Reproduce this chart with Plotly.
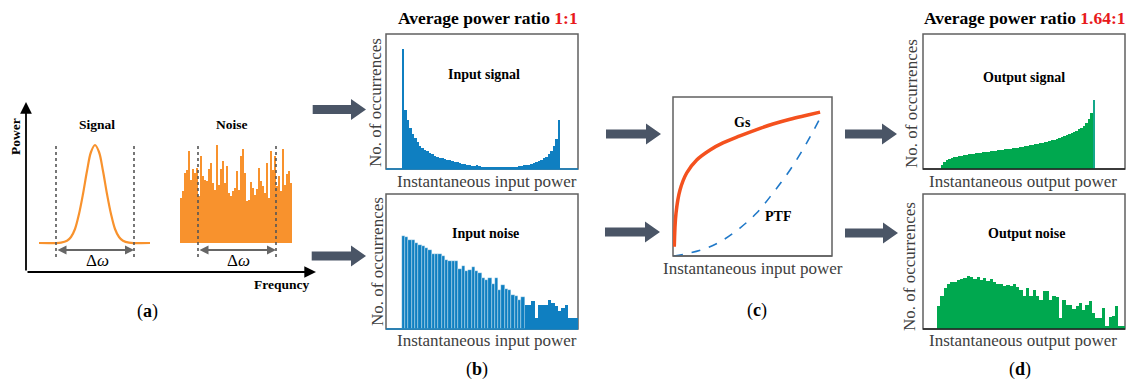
import plotly.graph_objects as go

W, H = 1131, 383

# ---------------- data ----------------
# (a) spectra: signal line (frequency, power) and noise spectrum samples
signal_freq = [13, 35, 41, 45, 49, 53, 57, 61, 65, 69, 73, 77, 81, 85, 89, 93, 97, 103, 124]
signal_power = [0, 0.4, 2.2, 6, 14, 29, 49, 72, 91, 98, 91, 72, 49, 29, 14, 6, 2.2, 0.4, 0]
noise_power = [45, 52, 70, 73, 92, 63, 74, 70, 75, 47, 87, 67, 63, 62, 74, 80, 60, 53, 98, 58,
               74, 82, 60, 77, 50, 47, 52, 55, 72, 53, 87, 94, 70, 42, 43, 61, 55, 48, 54, 75,
               62, 57, 50, 80, 45, 92, 73, 87, 57, 67, 52, 94, 58, 69, 72, 60]

# (b) histograms of instantaneous input power
input_signal_counts = [120, 59, 49, 41, 35, 31, 27, 23, 21, 19, 18, 16, 15, 13, 12, 11.5, 11, 10, 9.5, 9,
                       8, 7.5, 7, 6, 5.5, 5, 4.5, 4, 3.5, 3.5, 4, 3, 2.5, 2.5, 2, 2, 2, 2, 2, 2,
                       2, 2, 2, 2, 2.5, 2.5, 2.5, 3, 3.5, 4, 4, 4.5, 5.5, 6, 7, 8, 9, 11, 12.5, 15,
                       18, 23, 30, 49]
input_noise_counts = [93, 92, 89, 89, 86, 84, 83, 81, 79, 75, 75, 75, 73, 69, 68, 68, 68, 60, 63, 58,
                      59, 62, 58, 56, 51, 49, 51, 45, 51, 39, 44, 40, 39, 34, 33, 29, 32, 24, 24, 28,
                      11, 24, 24, 24, 29, 26, 23, 18, 21, 24, 11, 11, 11]

# (c) transfer curves
gs_x = [0.008, 0.019, 0.044, 0.086, 0.149, 0.233, 0.314, 0.421, 0.526, 0.629, 0.736, 0.841, 0.925]
gs_y = [0.058, 0.27, 0.415, 0.522, 0.604, 0.667, 0.711, 0.755, 0.795, 0.830, 0.860, 0.885, 0.905]
ptf_x = [0.006, 0.107, 0.212, 0.314, 0.421, 0.526, 0.629, 0.736, 0.841, 0.925]
ptf_y = [0.0, 0.019, 0.05, 0.10, 0.176, 0.27, 0.396, 0.541, 0.711, 0.868]

# (d) histograms of instantaneous output power
output_signal_counts = [4, 7, 9, 10, 11, 12, 12.5, 13, 13.5, 14, 14.5, 15, 15, 15.5, 16, 16, 16.5, 17, 17, 17.5,
                        18, 18, 18.5, 19, 19, 19.5, 20, 20, 20.5, 21, 21, 21.5, 22, 22.5, 23, 23.5, 24, 24.5,
                        25, 25.5, 26, 26.5, 27, 27.5, 28, 29, 29.5, 30, 31, 32, 33, 34, 35, 36, 37, 38, 40,
                        41, 43, 46, 50, 56, 69]
output_noise_counts = [23, 33, 41, 45, 47, 47, 49, 50, 51, 53, 52, 50, 52, 49, 51, 48, 50, 47, 45, 45,
                       43, 44, 43, 45, 42, 39, 33, 41, 33, 39, 33, 29, 38, 38, 29, 33, 32, 11, 29, 24,
                       24, 20, 23, 26, 19, 24, 28, 16, 11, 11, 21, 3, 12, 13, 23, 3, 3]

ORANGE = "#f8922d"
BLUE = "#0f7fc1"
GREEN = "#00a84f"
ARROW = "#4a5566"
SERIF = "Liberation Serif, Times New Roman, serif"


def fx(px):
    return px / W


def fy(py):
    return 1 - py / H


def dom_x(p0, p1):
    return [fx(p0), fx(p1)]


def dom_y(p_top, p_bot):
    return [fy(p_bot), fy(p_top)]


def axis(domain, rng):
    return dict(domain=domain, range=rng, visible=False, fixedrange=True)


def hist_range(box0, box1, bar0, bar1, n):
    """x-range (in bin units) so that n unit bins span bar0..bar1 pixels inside box0..box1."""
    s = n / (bar1 - bar0)
    return [(box0 - bar0) * s, (box1 - bar0) * s]


fig = go.Figure()

# ---- (a) spectra ----
fig.add_trace(go.Scatter(x=signal_freq, y=signal_power, mode="lines", line=dict(color=ORANGE, width=2.2,
                         shape="spline"), xaxis="x", yaxis="y", hoverinfo="skip"))
noise_freq = [155 + 2 * i for i in range(len(noise_power))]
fig.add_trace(go.Bar(x=noise_freq, y=noise_power, width=2, marker=dict(color=ORANGE, line=dict(width=0)),
                     xaxis="x", yaxis="y", hoverinfo="skip"))

# ---- (b) input histograms ----
n1 = len(input_signal_counts)
fig.add_trace(go.Bar(x=[i + 0.5 for i in range(n1)], y=input_signal_counts, width=1,
                     marker=dict(color=BLUE, line=dict(width=0)), xaxis="x2", yaxis="y2", hoverinfo="skip"))
n2 = len(input_noise_counts)
fig.add_trace(go.Bar(x=[i + 0.5 for i in range(n2)], y=input_noise_counts, width=1,
                     marker=dict(color=BLUE,
                                 line=dict(color="rgba(255,255,255,0.75)",
                                           width=[0.45 if i < 37 else 0 for i in range(n2)])),
                     xaxis="x3", yaxis="y3", hoverinfo="skip"))

# ---- (c) transfer curves ----
fig.add_trace(go.Scatter(x=ptf_x, y=ptf_y, mode="lines", line=dict(color="#1f78c8", width=1.6, dash="dash",
                         shape="spline"), xaxis="x4", yaxis="y4", hoverinfo="skip"))
fig.add_trace(go.Scatter(x=gs_x, y=gs_y, mode="lines", line=dict(color="#f4511e", width=3.5, shape="spline"),
                         xaxis="x4", yaxis="y4", hoverinfo="skip"))

# ---- (d) output histograms ----
n3 = len(output_signal_counts)
fig.add_trace(go.Bar(x=[i + 0.5 for i in range(n3)], y=output_signal_counts, width=1,
                     marker=dict(color=[GREEN] * (n3 - 1) + ["#14a88a"], line=dict(width=0)),
                     xaxis="x5", yaxis="y5", hoverinfo="skip"))
n4 = len(output_noise_counts)
fig.add_trace(go.Bar(x=[i + 0.5 for i in range(n4)], y=output_noise_counts, width=1,
                     marker=dict(color=GREEN, line=dict(width=0)), xaxis="x6", yaxis="y6", hoverinfo="skip"))

# ---------------- axes ----------------
layout_axes = dict(
    xaxis=axis(dom_x(26, 315), [0, 289]),
    yaxis=axis(dom_y(103, 272), [-29, 140]),
    xaxis2=axis(dom_x(386, 578), hist_range(386, 578, 401.7, 560, n1)),
    yaxis2=axis(dom_y(34, 169), [0, 135]),
    xaxis3=axis(dom_x(386, 578), hist_range(386, 578, 401.7, 578, n2)),
    yaxis3=axis(dom_y(194, 329), [0, 135]),
    xaxis4=axis(dom_x(673, 832), [0, 1]),
    yaxis4=axis(dom_y(97, 256), [0, 1]),
    xaxis5=axis(dom_x(923, 1125), hist_range(923, 1125, 940.7, 1095, n3)),
    yaxis5=axis(dom_y(34, 169), [0, 135]),
    xaxis6=axis(dom_x(923, 1125), hist_range(923, 1125, 937, 1125, n4)),
    yaxis6=axis(dom_y(194, 329), [0, 135]),
)
for k in range(2, 7):
    layout_axes[f"yaxis{k}"]["anchor"] = f"x{k}"
    layout_axes[f"xaxis{k}"]["anchor"] = f"y{k}"

shapes = []

# frames of the histogram / transfer panels
for k, bottom_color in [(2, BLUE), (3, BLUE), (4, "#606060"), (5, "#222222"), (6, "#222222")]:
    xr, yr = f"x{k} domain", f"y{k} domain"
    shapes.append(dict(type="rect", xref=xr, yref=yr, x0=0, x1=1, y0=0, y1=1,
                       line=dict(color="#606060", width=1.5), layer="below"))
    shapes.append(dict(type="line", xref=xr, yref=yr, x0=0, x1=1, y0=0, y1=0,
                       line=dict(color=bottom_color, width=1.6)))

# bandwidth markers in (a)
for xv in [30, 108, 172, 250]:
    shapes.append(dict(type="line", xref="x", yref="y", x0=xv, x1=xv, y0=-14, y1=98,
                       line=dict(color="#555555", width=1.6, dash="dot")))


# block arrows between panels (pixel coordinates converted to paper)
def block_arrow(x0, x1, yc, shaft=4.5, head=10.5, hl=15):
    pts = [(x0, yc - shaft), (x1 - hl, yc - shaft), (x1 - hl, yc - head), (x1, yc),
           (x1 - hl, yc + head), (x1 - hl, yc + shaft), (x0, yc + shaft)]
    path = "M " + " L ".join(f"{fx(a):.5f},{fy(b):.5f}" for a, b in pts) + " Z"
    return dict(type="path", xref="paper", yref="paper", path=path,
                fillcolor=ARROW, line=dict(width=0))


for x0, x1, yc in [(312.7, 366, 109.5), (311.7, 366, 256), (606, 661, 134), (605, 660, 232),
                   (845, 897, 134), (845, 898, 233)]:
    shapes.append(block_arrow(x0, x1, yc))

annotations = []


def text(px, py, s, size=13, color="black", angle=0, bold=False):
    font = dict(family=SERIF, size=size, color=color)
    if bold:
        font["weight"] = "bold"
    annotations.append(dict(x=fx(px), y=fy(py), xref="paper", yref="paper", text=s,
                            showarrow=False, xanchor="center", yanchor="middle", textangle=angle,
                            font=font))


# (a) coordinate axes with arrow heads (tails given as pixel offsets)
annotations.append(dict(x=fx(26), y=fy(102), ax=0, ay=170, xref="paper", yref="paper",
                        showarrow=True, arrowhead=2, arrowsize=1.3,
                        arrowwidth=1.8, arrowcolor="black", text=""))
annotations.append(dict(x=fx(316), y=fy(272), ax=-290, ay=0, xref="paper", yref="paper",
                        showarrow=True, arrowhead=2, arrowsize=1.3,
                        arrowwidth=1.8, arrowcolor="black", text=""))
# bandwidth double arrows
for xa, xb in [(30, 108), (172, 250)]:
    annotations.append(dict(x=xb, y=-7, ax=xa, ay=-7, xref="x", yref="y", axref="x", ayref="y",
                            showarrow=True, arrowhead=2, startarrowhead=2, arrowside="end+start",
                            arrowsize=1, arrowwidth=1.8, arrowcolor="#666666", text=""))

text(15, 137, "Power", 13.5, angle=-90, bold=True)
text(282, 284, "Frequncy", 13.5, bold=True)
text(97, 124, "Signal", 13.5, bold=True)
text(232, 124, "Noise", 13.5, bold=True)
text(97, 260, "Δ<i>ω</i>", 17)
text(238, 260, "Δ<i>ω</i>", 17)
text(147, 311, "(<b>a</b>)", 18)

text(488, 18, "Average power ratio <span style='color:#e8191b'>1:1</span>", 17.5, bold=True)
text(1025, 18, "Average power ratio <span style='color:#e8191b'>1.64:1</span>", 17.5, bold=True)

text(484, 75, "Input signal", 14, bold=True)
text(485, 233, "Input noise", 14, bold=True)
text(1024, 77, "Output signal", 14, bold=True)
text(1026, 233, "Output noise", 14, bold=True)
text(742, 123, "Gs", 14, bold=True)
text(778, 216, "PTF", 14, bold=True)

GRAY = "#404040"
text(487, 182, "Instantaneous input power", 17, GRAY)
text(487, 340, "Instantaneous input power", 17, GRAY)
text(753, 268, "Instantaneous input power", 17, GRAY)
text(1023, 182, "Instantaneous output power", 17, GRAY)
text(1023, 340, "Instantaneous output power", 17, GRAY)
text(375, 103, "No. of occurrences", 17, GRAY, angle=-90)
text(377, 262, "No. of occurrences", 17, GRAY, angle=-90)
text(911, 104, "No. of occurrences", 17, GRAY, angle=-90)
text(909, 267, "No. of occurrences", 17, GRAY, angle=-90)

text(477, 369, "(<b>b</b>)", 18)
text(757, 310, "(<b>c</b>)", 18)
text(1020, 369, "(<b>d</b>)", 18)

fig.update_layout(
    width=W, height=H, margin=dict(l=0, r=0, t=0, b=0),
    paper_bgcolor="white", plot_bgcolor="rgba(0,0,0,0)",
    showlegend=False, bargap=0,
    shapes=shapes, annotations=annotations,
    **layout_axes,
)

fig.write_html("out.html", config={"displayModeBar": False})
